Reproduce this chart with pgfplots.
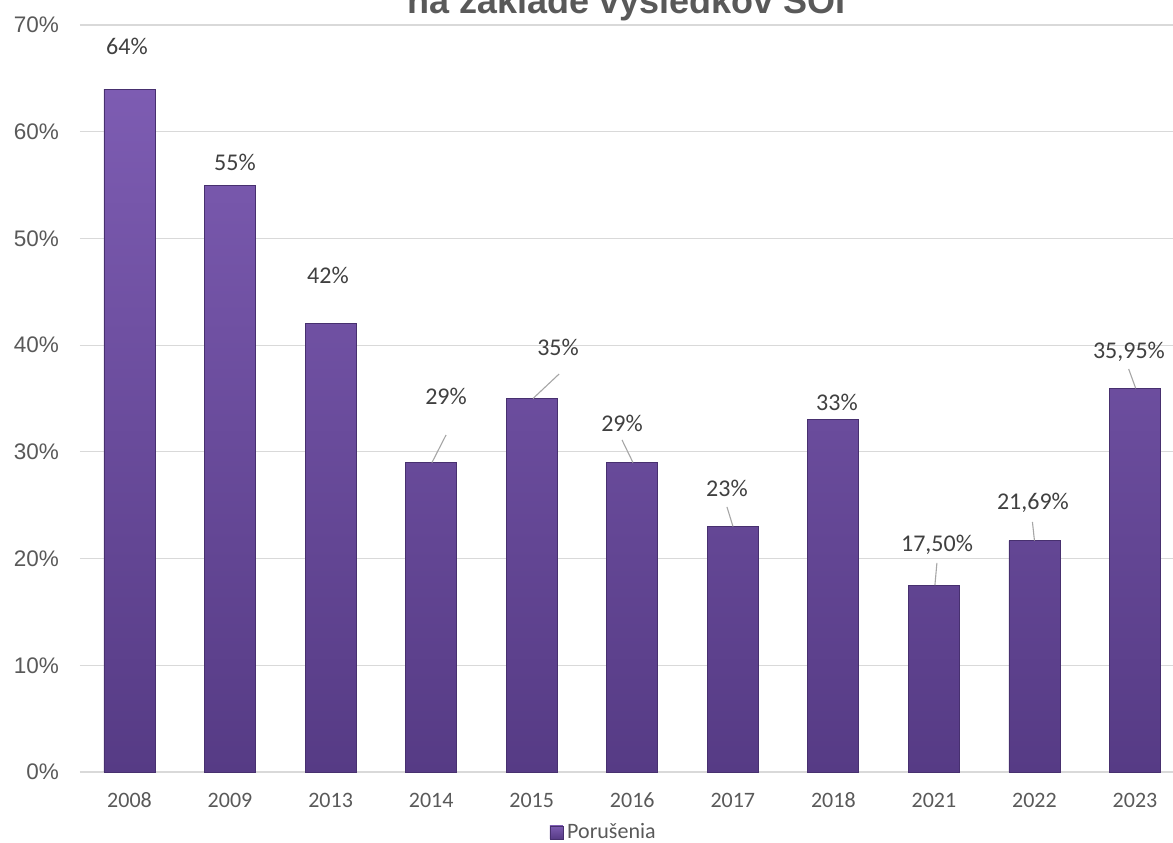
\documentclass[border=0pt]{standalone}
\usepackage{pgfplots}
\pgfplotsset{compat=1.18}
\usepackage{pgfplotstable}
\usepackage{fontspec}
\setmainfont{Carlito}
\newfontfamily\arialf{Liberation Sans}
\definecolor{txt}{HTML}{595959}
\definecolor{lbl}{HTML}{404040}
\definecolor{gridc}{HTML}{D9D9D9}
\definecolor{bartop}{HTML}{7D5CB2}
\definecolor{barbot}{HTML}{563B85}
\definecolor{baredge}{HTML}{47306F}
\definecolor{leadc}{HTML}{A6A6A6}

\pgfplotstableread{
x y
0 64
1 55
2 42
3 29
4 35
5 29
6 23
7 33
8 17.5
9 21.69
10 35.95
}\bars

\pgfplotstableread{
x y lab
-0.025 67.95 64
1.049 57.08 55
1.974 46.49 42
3.148 35.24 29
4.262 39.83 35
4.898 32.71 29
5.942 26.62 23
7.036 34.68 33
8.031 21.27 17,50
8.985 25.21 21,69
9.940 39.36 35,95
}\labels

\pgfplotstableread{
x y u v
3.008 29 0.14 2.58
4.013 35 0.26 2.30
5.007 29 -0.109 2.12
6.002 23 -0.06 1.84
8.010 17.5 0.02 2.09
9.000 21.69 -0.02 1.74
10.007 35.95 -0.07 1.82
}\leaders

\begin{document}
\begin{tikzpicture}
\begin{axis}[
  scale only axis,
  width=546.5pt, height=373.5pt,
  xmin=-0.4923, xmax=10.378,
  ymin=0, ymax=70,
  clip=false,
  axis x line*=bottom,
  axis y line*=left,
  x axis line style={draw=gridc, line width=0.8pt},
  y axis line style={draw=none},
  major tick length=0pt,
  ymajorgrids,
  grid style={draw=gridc, line width=0.6pt},
  ytick={0,10,...,70},
  yticklabel={\pgfmathprintnumber{\tick}\%},
  yticklabel style={font=\arialf\fontsize{11.25}{13}\selectfont, text=txt, xshift=-7pt},
  /pgf/number format/assume math mode=true,
  xtick={0,...,10},
  xticklabels={2008,2009,2013,2014,2015,2016,2017,2018,2021,2022,2023},
  xticklabel style={font=\fontsize{11}{13}\selectfont, text=txt, anchor=base, yshift=-17.5pt},
  legend style={draw=none, fill=none, at={(0.48,-0.081)}, anchor=center,
    font=\fontsize{11}{13}\selectfont, text=txt, inner sep=0pt},
]
\addplot[ybar, bar width=25.5pt, bar shift=0pt, draw=baredge, line width=0.4pt,
  top color=bartop, bottom color=barbot,
  legend image code/.code={\draw[baredge, line width=0.3pt, top color=bartop, bottom color=barbot] (0pt,-3.2pt) rectangle (6.5pt,3.3pt);}]
  table[x=x,y=y] {\bars};
\addlegendentry{Porušenia}

\addplot[forget plot, quiver={u=\thisrow{u}, v=\thisrow{v}}, draw=leadc, line width=0.55pt, -]
  table[x=x,y=y] {\leaders};

\addplot[forget plot, draw=none, mark=none, point meta=explicit symbolic,
  nodes near coords={\pgfplotspointmeta\%},
  every node near coord/.style={anchor=center, font=\fontsize{12}{14}\selectfont, text=lbl, inner sep=0pt}]
  table[x=x,y=y,meta=lab] {\labels};

\coordinate (bl) at (rel axis cs:0,0);
\coordinate (tr) at (rel axis cs:1,1);
\coordinate (tc) at (rel axis cs:0.5,1);
\end{axis}
\node[font=\arialf\bfseries\fontsize{18}{20}\selectfont, text=txt, anchor=base] at ([yshift=5.5pt]tc) {na základe výsledkov SOI};
\pgfresetboundingbox
\useasboundingbox ([shift={(-40pt,-35pt)}]bl) rectangle ([yshift=12.5pt]tr);
\end{tikzpicture}
\end{document}
